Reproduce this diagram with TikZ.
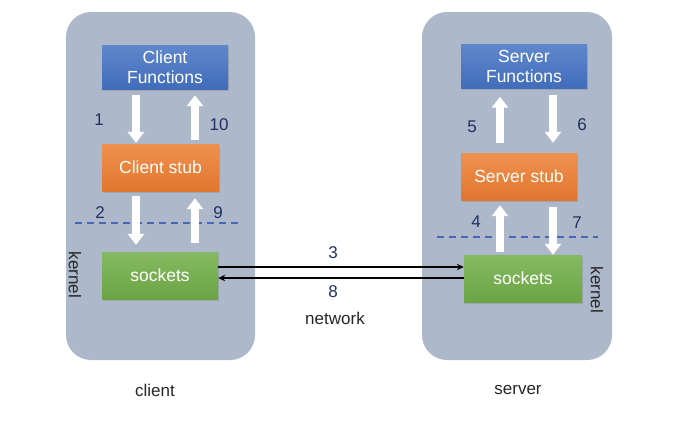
\documentclass[tikz,border=0pt]{standalone}
\usepackage{fontspec}
\setmainfont{Liberation Sans}
\usetikzlibrary{arrows.meta,shadows}
\definecolor{panelc}{RGB}{173,185,202}
\definecolor{bluec}{RGB}{68,114,196}
\definecolor{orangec}{RGB}{237,125,49}
\definecolor{greenc}{RGB}{112,173,71}
\definecolor{numc}{RGB}{32,48,96}
\definecolor{dashc}{RGB}{68,104,190}
\begin{document}
\begin{tikzpicture}[x=1pt,y=-1pt,
  panel/.style={fill=panelc, rounded corners=25pt},
  boxc/.style={minimum width=#1, inner sep=0pt, text=white, align=center,
    font=\fontsize{17.5}{20.5}\selectfont,
    drop shadow={opacity=0.35, shadow xshift=1pt, shadow yshift=-1.5pt}},
  bluebox/.style={boxc=#1, top color=bluec!85!white, bottom color=bluec!95!black, minimum height=44pt},
  orangebox/.style={boxc=#1, top color=orangec!85!white, bottom color=orangec!95!black, minimum height=47pt},
  greenbox/.style={boxc=#1, top color=greenc!85!white, bottom color=greenc!95!black, minimum height=47pt},
  wa/.style={draw=white, line width=7.5pt, -{Triangle[width=16pt,length=11pt]}},
  net/.style={draw=black, line width=1.5pt, -{Stealth[width=6.5pt,length=7pt]}},
  num/.style={text=numc, font=\fontsize{17}{19}\selectfont},
  lbl/.style={text=black!85, font=\fontsize{17}{19}\selectfont},
  dashline/.style={draw=dashc, line width=1.3pt, dash pattern=on 7pt off 5pt}
]
\useasboundingbox (0,0) rectangle (679,421);
% panels
\fill[panel] (66,12) rectangle (255,360);
\fill[panel] (422,12) rectangle (612,360);
% boxes
\node[bluebox=126pt] (cf) at (165,67) {Client\\Functions};
\node[orangebox=117pt] (cs) at (160.5,167.5) {Client stub};
\node[greenbox=116pt] (ls) at (160,275.5) {sockets};
\node[bluebox=126pt] (sf) at (524,66.5) {Server\\Functions};
\node[orangebox=116pt] (ss) at (519,176.5) {Server stub};
\node[greenbox=118pt] (rs) at (523,278.5) {sockets};
% dashed lines
\draw[dashline] (75,223) -- (238,223);
\draw[dashline] (437,237) -- (598,237);
% x positions of arrows
\coordinate (xa) at (136,0);
\coordinate (xb) at (195,0);
\coordinate (xc) at (500,0);
\coordinate (xd) at (553,0);
\coordinate (ya) at (0,267);
\coordinate (yb) at (0,278);
% white block arrows
\draw[wa, shorten <=6pt, shorten >=1pt] (cf.south -| xa) -- (cs.north -| xa);
\draw[wa, shorten <=4pt, shorten >=6pt] (cs.north -| xb) -- (cf.south -| xb);
\draw[wa, shorten <=5pt, shorten >=7pt] (cs.south -| xa) -- (ls.north -| xa);
\draw[wa, shorten <=9pt, shorten >=7pt] (ls.north -| xb) -- (cs.south -| xb);
\draw[wa, shorten <=10pt, shorten >=8pt] (ss.north -| xc) -- (sf.south -| xc);
\draw[wa, shorten <=6pt, shorten >=10pt] (sf.south -| xd) -- (ss.north -| xd);
\draw[wa, shorten <=3pt, shorten >=5pt] (rs.north -| xc) -- (ss.south -| xc);
\draw[wa, shorten <=7pt, shorten >=0pt] (ss.south -| xd) -- (rs.north -| xd);
% network arrows
\draw[net] (ls.east |- ya) -- (rs.west |- ya);
\draw[net] (rs.west |- yb) -- (ls.east |- yb);
% numbers
\node[num] (n1) at (99,120) {1};
\node[num] (n10) at (219,125) {10};
\node[num] (n2) at (100,213) {2};
\node[num] (n9) at (218,213) {9};
\node[num] (n5) at (472,127) {5};
\node[num] (n6) at (582,125) {6};
\node[num] (n4) at (476,222) {4};
\node[num] (n7) at (577,223) {7};
\node[num] (n3) at (333,253) {3};
\node[num] (n8) at (333,292) {8};
% labels
\node[lbl] (nw) at (335,318) {network};
\node[lbl] (cl) at (155,390) {client};
\node[lbl] (sv) at (518,390) {server};
\node[lbl, rotate=-90] (k1) at (75,275) {kernel};
\node[lbl, rotate=-90] (k2) at (597,290) {kernel};
\end{tikzpicture}
\end{document}
